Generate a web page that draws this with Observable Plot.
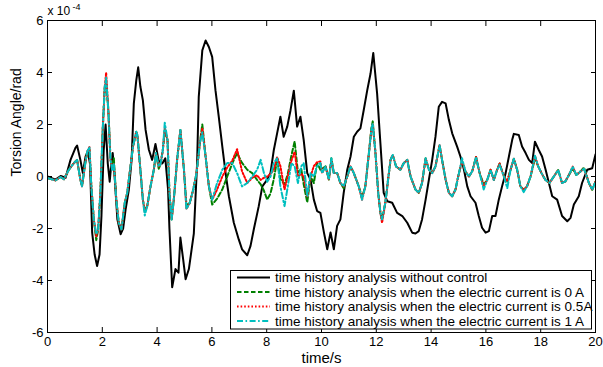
<!DOCTYPE html>
<html><head><meta charset="utf-8">
<script src="https://cdn.jsdelivr.net/npm/d3@7"></script>
<script src="https://cdn.jsdelivr.net/npm/@observablehq/plot@0.6"></script>
<style>
body{margin:0;background:#fff;}
#wrap{position:relative;width:603px;height:367px;}
#legend{position:absolute;left:0;top:0;pointer-events:none;}
</style></head><body><div id="wrap"></div>
<script>
// time axis (s) and torsion angle values in units of 1e-4 rad
const xTicks = [0, 2, 4, 6, 8, 10, 12, 14, 16, 18, 20];
const yTicks = [-6, -4, -2, 0, 2, 4, 6];
const seriesNames = [
  "time history analysis without control",
  "time history analysis when the electric current is 0 A",
  "time history analysis when the electric current is 0.5A",
  "time history analysis when the electric current is 1 A"
];

const tBlack = [0, 0.29, 0.48, 0.66, 0.84, 1.02, 1.08, 1.2, 1.29, 1.39,
  1.47, 1.55, 1.63, 1.72, 1.81, 1.9, 1.97, 2.05, 2.12, 2.2,
  2.27, 2.33, 2.38, 2.45, 2.55, 2.67, 2.76, 2.85, 2.97, 3.07,
  3.15, 3.24, 3.31, 3.39, 3.48, 3.58, 3.7, 3.82, 3.94, 4.06,
  4.19, 4.3, 4.4, 4.45, 4.55, 4.67, 4.78, 4.85, 4.95, 5.04,
  5.16, 5.34, 5.46, 5.52, 5.65, 5.77, 5.89, 6.01, 6.13, 6.25,
  6.38, 6.5, 6.62, 6.8, 6.98, 7.1, 7.29, 7.41, 7.53, 7.71,
  7.84, 8.02, 8.14, 8.26, 8.38, 8.5, 8.62, 8.75, 8.87, 8.99,
  9.11, 9.23, 9.35, 9.48, 9.6, 9.72, 9.84, 9.96, 10.09, 10.21,
  10.33, 10.45, 10.57, 10.69, 10.81, 10.94, 11.06, 11.18, 11.3, 11.42,
  11.54, 11.67, 11.79, 11.89, 12.03, 12.15, 12.27, 12.4, 12.58, 12.76,
  12.95, 13.13, 13.31, 13.43, 13.55, 13.67, 13.8, 13.92, 14.04, 14.16,
  14.28, 14.4, 14.53, 14.65, 14.77, 14.95, 15.07, 15.2, 15.32, 15.44,
  15.62, 15.74, 15.86, 15.99, 16.11, 16.23, 16.35, 16.47, 16.59, 16.72,
  16.84, 16.96, 17.02, 17.2, 17.32, 17.45, 17.57, 17.69, 17.79, 17.93,
  18.05, 18.18, 18.3, 18.42, 18.6, 18.78, 18.97, 19.09, 19.21, 19.39,
  19.51, 19.7, 19.88, 20.0];
const vBlack = [0, -0.12, 0.02, -0.05, 0.64, 1.1, 1.19, 0.64, 0.13, 0.77,
  0.96, 0.5, -2.16, -3.0, -3.44, -3.0, -1.5, 1.0, 2.0, 0.5,
  -0.2, 0.5, 0.9, 0, -1.65, -2.22, -2.0, -1.27, -0.5, 0.64,
  2.8, 3.7, 4.2, 3.45, 2.94, 1.79, 1.03, 0.64, 1.25, 0.6,
  0.5, 0.7, -0.5, -2.0, -4.26, -3.56, -3.7, -2.35, -3.18, -3.95,
  -3.56, -2.2, 0.5, 3.06, 4.85, 5.23, 4.98, 4.6, 3.32, 2.3,
  1.15, 0.13, -0.76, -1.78, -2.42, -2.8, -3.03, -2.67, -2.03, -1.14,
  -0.38, -0.12, 0.15, 1.02, 1.66, 2.3, 1.53, 1.92, 2.55, 3.3,
  1.92, 2.3, 1.41, 0.13, -0.12, -0.89, -1.33, -1.4, -2.16, -2.8,
  -2.15, -2.8, -1.9, -1.65, -0.63, 0.26, 0.77, 1.53, 1.72, 1.85,
  2.55, 3.32, 3.96, 4.75, 3.19, 1.28, -0.63, -0.95, -1.01, -1.4,
  -1.52, -1.78, -2.16, -2.19, -2.1, -1.65, -0.89, -0.12, 0.64, 1.53,
  2.68, 2.87, 2.81, 2.17, 1.66, 1.15, 0.77, 0.26, -0.38, -0.76,
  -1.01, -1.52, -1.97, -2.16, -2.1, -1.52, -1.52, -0.89, -0.38, 0.13,
  0.77, 1.41, 1.64, 1.6, 1.15, 0.9, 0.64, 0.52, 1.34, 1.02,
  0.77, 0.26, -0.25, -0.76, -0.89, -1.52, -1.72, -1.59, -1.08, -0.76,
  -0.25, 0.26, 0.32, 0.85];

const tCtrl = [0, 0.29, 0.48, 0.6, 0.78, 0.96, 1.08, 1.2, 1.26, 1.36, 1.45, 1.53, 1.6, 1.69, 1.78, 1.85, 1.93, 2.02, 2.09, 2.14, 2.22, 2.3, 2.36, 2.42, 2.51, 2.6, 2.7, 2.82, 2.91, 3.03, 3.12, 3.24, 3.28, 3.39, 3.48, 3.55, 3.64, 3.76, 3.88, 3.96, 4.06, 4.12, 4.21, 4.28, 4.38, 4.45, 4.53, 4.61, 4.73, 4.85, 4.98, 5.07, 5.19, 5.32, 5.44, 5.56, 5.65, 5.77, 5.89,
  6.01, 6.19, 6.38, 6.56, 6.74, 6.92, 7.1, 7.29, 7.47, 7.65, 7.78, 7.9, 8.02, 8.14, 8.26, 8.38, 8.5, 8.65, 8.77, 8.9, 9.02, 9.14, 9.26, 9.35, 9.48, 9.6, 9.72, 9.84, 9.96,
  10.02, 10.15, 10.27, 10.36, 10.45, 10.57, 10.69, 10.81, 10.94, 11.06, 11.18, 11.36, 11.48, 11.6, 11.73, 11.82, 11.87, 11.97, 12.07, 12.15, 12.21, 12.33, 12.43, 12.52, 12.6, 12.72, 12.88, 13.0, 13.13, 13.25, 13.43, 13.55, 13.67, 13.8, 13.92, 14.04, 14.16, 14.31, 14.4, 14.53, 14.65, 14.77, 14.89,
  15.01, 15.13, 15.25, 15.38, 15.5, 15.64, 15.77, 15.92, 16.05, 16.17, 16.29, 16.41, 16.5, 16.66, 16.78, 16.9, 17.02, 17.14, 17.26, 17.38, 17.5, 17.63, 17.79, 17.91, 18.03, 18.17, 18.32, 18.48, 18.64, 18.78, 18.9, 19.03, 19.17, 19.3, 19.45, 19.58, 19.76, 19.88, 20.0];

const v0A = [-0.06, -0.15, -0.02, -0.1, 0.26, 0.51, 0.64, -0.12, -0.38, 0.39, 0.96, 1.05, -0.38, -1.65, -2.45, -2.03, -0.63, 1.92, 3.45, 3.6, 2.55, 0.64, 0.4, 0.7, -0.89, -1.78, -2.03, -1.01, -0.63, 0.39, 1.15, 1.72, 1.6, 0.26, -0.89, -1.3, -1.14, -0.38, 0.26, 0.9, 0.3, 0.45, 1.02, 1.75, 1.4, -0.63, -1.65, -0.89, 0.64, 1.79, 0.26, -1.1, -1.02, -0.5, 0.13, 1.28, 2.0, 0.77, -0.38,
  -1.08, -0.85, -0.5, 0, 0.5, 0.9, 0.52, 0.26, 0.13, -0.13, -0.3, -0.55, -0.89, -0.65, -0.1, 0.64, -0.1, -0.3, 0.1, 0.8, 1.35, 0.15, 0.3, -0.3, -1.0, 0, -0.25, 0.52, 0.26,
  0.3, 0.39, -0.12, 0.7, 0.13, 0.13, -0.25, -0.45, 0, 0.39, 0.13, -0.38, -0.8, -0.38, 0.9, 1.85, 2.12, 0.9, -0.63, -1.4, -1.65, -1.01, -0.12, 0.64, 0.83, 0.39, 0.26, 0.51, 0.64, 0, -0.5, -0.63, -0.25, 0.7, 0.26, 0.13, 0.39, 1.2, 0.64, -0.12, -0.63, -0.76, -0.5,
  0.1, 0.6, 0.2, 0, 0.2, 0.75, 0.13, -0.3, -0.13, 0.26, -0.13, 0.26, 0.5, 0, -0.19, 0.26, 0.68, 0.26, -0.38, -0.51, -0.38, 0, 0.7, 0.39, 0.13, -0.13, -0.25, 0, 0.25, -0.25, -0.19, 0.06, 0.3, 0.06, 0.19, 0.35, -0.25, -0.51, -0.2];

const v05A = [-0.06, -0.15, -0.02, -0.1, 0.26, 0.51, 0.64, -0.12, -0.38, 0.39, 0.96, 1.13, -0.38, -1.65, -2.3, -2.03, -0.63, 1.92, 3.45, 4.0, 2.55, 0.64, 0.26, 0.51, -0.89, -1.78, -2.03, -1.01, -0.63, 0.39, 1.15, 1.72, 1.6, 0.26, -0.89, -1.35, -1.14, -0.38, 0.26, 0.9, 0.39, 0.45, 1.02, 1.85, 1.4, -0.63, -1.65, -0.89, 0.64, 1.79, 0.26, -1.25, -1.02, -0.5, 0.13, 1.28, 1.85, 0.77, -0.38,
  -0.89, -0.5, 0.0, 0.35, 0.6, 1.05, 0.2, -0.25, -0.05, 0.05, -0.13, -0.05, 0, 0.1, 0.26, 0.75, 0.4, -0.5, 0, 0.6, 0.95, 0.0, 0.1, 0.0, -0.76, 0, 0.4, 0.55, 0.58,
  0.13, 0.39, -0.12, 0.6, 0.13, 0.13, -0.25, -0.38, 0, 0.39, 0.13, -0.38, -0.89, -0.38, 0.9, 1.79, 2.0, 0.9, -0.63, -1.4, -1.78, -1.01, -0.12, 0.64, 0.83, 0.39, 0.26, 0.51, 0.64, 0, -0.5, -0.63, -0.25, 0.7, 0.26, 0.13, 0.39, 1.2, 0.64, -0.12, -0.63, -0.76, -0.5,
  0.1, 0.6, 0.2, 0, 0.2, 0.75, 0.13, -0.38, -0.13, 0.26, -0.13, 0.26, 0.5, 0, -0.19, 0.26, 0.68, 0.26, -0.38, -0.51, -0.38, 0, 0.8, 0.39, 0.13, -0.13, -0.25, 0, 0.25, -0.25, -0.19, 0.06, 0.38, 0.06, 0.19, 0.3, -0.25, -0.51, -0.2];

const v1A = [-0.06, -0.15, -0.02, -0.1, 0.26, 0.51, 0.64, -0.12, -0.38, 0.39, 0.96, 1.13, -0.38, -1.65, -2.22, -2.03, -0.63, 1.92, 3.45, 3.8, 2.55, 0.64, 0.26, 0.51, -0.89, -1.78, -2.03, -1.01, -0.63, 0.39, 1.15, 1.72, 1.6, 0.26, -0.89, -1.5, -1.14, -0.38, 0.26, 0.9, 0.39, 0.45, 1.02, 2.07, 1.4, -0.63, -1.65, -0.89, 0.64, 1.79, 0.26, -1.25, -1.02, -0.5, 0.13, 1.28, 1.7, 0.77, -0.38,
  -0.89, -0.25, 0.26, 0.52, 0.52, 0.13, -0.38, -0.25, 0, 0.26, 0.64, 0.13, -0.2, 0, 0.52, 0.7, -0.38, -1.14, -0.38, 0.52, 0.39, -0.25, 0.39, 0.52, -0.76, 0.13, 0, 0.39, 0.52,
  0.13, 0.39, -0.12, 0.7, 0.13, 0.13, -0.25, -0.38, 0, 0.39, 0.13, -0.38, -0.89, -0.38, 0.9, 1.79, 2.04, 0.9, -0.63, -1.4, -1.65, -1.01, -0.12, 0.64, 0.83, 0.39, 0.26, 0.51, 0.64, 0, -0.5, -0.63, -0.25, 0.7, 0.26, 0.13, 0.39, 1.2, 0.64, -0.12, -0.63, -0.76, -0.5,
  0.1, 0.7, 0.2, 0, 0.2, 0.75, 0.13, -0.5, -0.13, 0.26, -0.13, 0.26, 0.45, 0, -0.45, 0.26, 0.68, 0.26, -0.38, -0.6, -0.38, 0, 0.8, 0.39, 0.13, -0.13, -0.25, 0, 0.25, -0.25, -0.19, 0.06, 0.38, 0.06, 0.19, 0.3, -0.25, -0.51, -0.2];

const colors = ["#000000", "#008000", "#ff0000", "#00bfbf"];
const dashes = [null, "4.5,2.5", "1.6,2", "6,2.5,1.6,2.5"];

const blackData = tBlack.map((t, i) => ({t, v: vBlack[i]}));
const mk = vals => tCtrl.map((t, i) => ({t, v: vals[i]}));
const ctrlData = [mk(v0A), mk(v05A), mk(v1A)];

const font = "'Liberation Sans', Arial, Helvetica, sans-serif";

const chart = Plot.plot({
  width: 603, height: 367,
  marginLeft: 47, marginRight: 8, marginTop: 20, marginBottom: 35,
  style: {fontFamily: font, fontSize: "13px", color: "#000", background: "#fff", overflow: "visible"},
  x: {domain: [0, 20]},
  y: {domain: [-6, 6]},
  marks: [
    Plot.line(blackData, {x: "t", y: "v", stroke: colors[0], strokeWidth: 2, clip: true}),
    ...ctrlData.map((d, k) => Plot.line(d, {x: "t", y: "v", stroke: colors[k + 1], strokeWidth: 2, strokeDasharray: dashes[k + 1], clip: true})),
    Plot.frame({stroke: "#000", strokeWidth: 1}),
    Plot.axisX(xTicks, {anchor: "bottom", tickSize: -5, tickPadding: 9, tickFormat: d => String(d), label: null, fontSize: 13}),
    Plot.axisX(xTicks, {anchor: "top", tickSize: -5, tickFormat: () => "", label: null}),
    Plot.axisY(yTicks, {anchor: "left", tickSize: -5, tickPadding: 9, tickFormat: d => String(d), label: null, fontSize: 13}),
    Plot.axisY(yTicks, {anchor: "right", tickSize: -5, tickFormat: () => "", label: null}),
    Plot.text(["time/s"], {frameAnchor: "bottom", dy: 26, lineAnchor: "middle", fontSize: 15}),
    Plot.text(["Torsion Angle/rad"], {frameAnchor: "left", dx: -31, rotate: -90, lineAnchor: "middle", fontSize: 14}),
    Plot.text(["x 10"], {frameAnchor: "top-left", textAnchor: "start", dy: -9, lineAnchor: "middle", fontSize: 12}),
    Plot.text(["-4"], {frameAnchor: "top-left", textAnchor: "start", dx: 25, dy: -13.5, lineAnchor: "middle", fontSize: 9})
  ]
});
document.getElementById("wrap").appendChild(chart);

// legend box
const lg = d3.select("#wrap").append("svg").attr("id", "legend")
  .attr("width", 603).attr("height", 367);
lg.append("rect").attr("x", 230.5).attr("y", 270.5).attr("width", 361).attr("height", 58.5)
  .attr("fill", "#fff").attr("stroke", "#000").attr("stroke-width", 1);
seriesNames.forEach((name, i) => {
  const y = 277.5 + i * 14.5;
  lg.append("line").attr("x1", 237).attr("x2", 270).attr("y1", y).attr("y2", y)
    .attr("stroke", colors[i]).attr("stroke-width", 2)
    .attr("stroke-dasharray", dashes[i]);
  lg.append("text").attr("x", 275).attr("y", y).attr("dy", "0.35em")
    .attr("font-family", font).attr("font-size", 13.5).attr("fill", "#000").text(name);
});
</script>
</body></html>
